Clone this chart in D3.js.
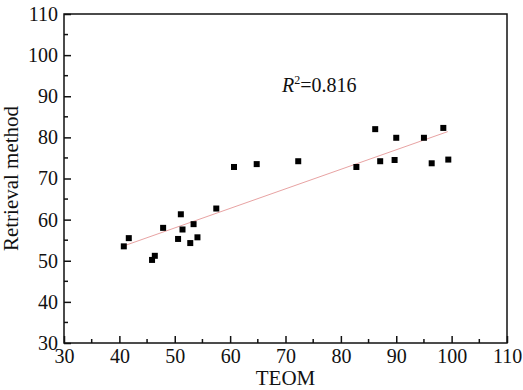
<!DOCTYPE html>
<html>
<head>
<meta charset="utf-8">
<script src="https://cdn.jsdelivr.net/npm/d3@7"></script>
<style>
  body { margin: 0; background: #fff; }
  text { font-family: "Liberation Serif", "DejaVu Serif", serif; fill: #111; }
</style>
</head>
<body>
<div id="chart"></div>
<script>
// measured values (TEOM vs retrieval method)
var teom = [40.8, 41.7, 45.9, 46.4, 47.9, 50.6, 51.1, 51.4, 52.8, 53.4, 54.1, 57.5,
            60.7, 64.8, 72.3, 82.8, 86.2, 87.1, 89.7, 90.0, 95.0, 96.4, 98.5, 99.4];
var retrieval = [53.5, 55.5, 50.2, 51.2, 58.0, 55.3, 61.3, 57.6, 54.3, 58.9, 55.7, 62.7,
                 72.8, 73.5, 74.2, 72.8, 82.0, 74.2, 74.5, 79.9, 79.9, 73.7, 82.3, 74.6];
// fitted trend line end points
var fitX = [41.2, 99.3];
var fitY = [53.8, 81.4];
var xTicks = [30, 40, 50, 60, 70, 80, 90, 100, 110];
var yTicks = [30, 40, 50, 60, 70, 80, 90, 100, 110];
var r2Label = "0.816";

var W = 523, H = 390;
var margin = { top: 14, right: 16, bottom: 47, left: 64 };
var width = W - margin.left - margin.right,
    height = H - margin.top - margin.bottom;

var svg = d3.select("#chart").append("svg")
    .attr("width", W)
    .attr("height", H)
    .append("g")
    .attr("transform", "translate(" + margin.left + "," + margin.top + ")");

var x = d3.scaleLinear().domain([30, 110]).range([0, width]);
var y = d3.scaleLinear().domain([30, 110]).range([height, 0]);

// minor ticks at the half steps
var xMinor = xTicks.slice(0, -1).map(function(d) { return d + 5; });
var yMinor = yTicks.slice(0, -1).map(function(d) { return d + 5; });

// bottom axis, ticks pointing inward
var gx = svg.append("g")
    .attr("transform", "translate(0," + height + ")")
    .call(d3.axisBottom(x).tickValues(xTicks).tickSize(-7).tickPadding(6).tickFormat(d3.format("d")));
gx.append("g").selectAll("line").data(xMinor).enter().append("line")
    .attr("x1", function(d) { return x(d); }).attr("x2", function(d) { return x(d); })
    .attr("y1", 0).attr("y2", -4)
    .attr("stroke", "#111").attr("stroke-width", 1.5);

// left axis
var gy = svg.append("g")
    .call(d3.axisLeft(y).tickValues(yTicks).tickSize(-7).tickPadding(6).tickFormat(d3.format("d")));
gy.append("g").selectAll("line").data(yMinor).enter().append("line")
    .attr("y1", function(d) { return y(d); }).attr("y2", function(d) { return y(d); })
    .attr("x1", 0).attr("x2", 4)
    .attr("stroke", "#111").attr("stroke-width", 1.5);

[gx, gy].forEach(function(g) {
    g.attr("font-family", null);
    g.select(".domain").remove();
    g.selectAll(".tick line").attr("stroke", "#111").attr("stroke-width", 1.5);
    g.selectAll(".tick text")
        .style("font-family", "'Liberation Serif', serif")
        .style("font-size", "20px")
        .attr("fill", "#111");
});
gy.selectAll(".tick text").attr("dy", "0.32em");
gx.selectAll(".tick text").attr("dy", "0.72em");

// frame
svg.append("rect")
    .attr("x", 0).attr("y", 0)
    .attr("width", width).attr("height", height)
    .attr("fill", "none")
    .attr("stroke", "#111")
    .attr("stroke-width", 1.5);

// trend line
svg.append("line")
    .attr("x1", x(fitX[0])).attr("y1", y(fitY[0]))
    .attr("x2", x(fitX[1])).attr("y2", y(fitY[1]))
    .attr("stroke", "#e8a3a3")
    .attr("stroke-width", 1);

// points
var pts = teom.map(function(d, i) { return { x: d, y: retrieval[i] }; });
svg.selectAll(null)
    .data(pts)
    .enter()
    .append("rect")
    .attr("x", function(d) { return x(d.x) - 3; })
    .attr("y", function(d) { return y(d.y) - 3; })
    .attr("width", 6)
    .attr("height", 6)
    .attr("fill", "#000");

// R^2 annotation
var rt = svg.append("text")
    .attr("x", 218)
    .attr("y", 78)
    .style("font-size", "20px");
rt.append("tspan").style("font-style", "italic").text("R");
rt.append("tspan").attr("dy", -8).style("font-size", "12px").text("2");
rt.append("tspan").attr("dy", 8).text("=" + r2Label);

// axis titles
svg.append("text")
    .attr("x", x(70))
    .attr("y", height + 42)
    .attr("text-anchor", "middle")
    .style("font-size", "21px")
    .text("TEOM");

svg.append("text")
    .attr("transform", "translate(" + (-46) + "," + (height / 2) + ") rotate(-90)")
    .attr("text-anchor", "middle")
    .style("font-size", "21px")
    .text("Retrieval method");
</script>
</body>
</html>
